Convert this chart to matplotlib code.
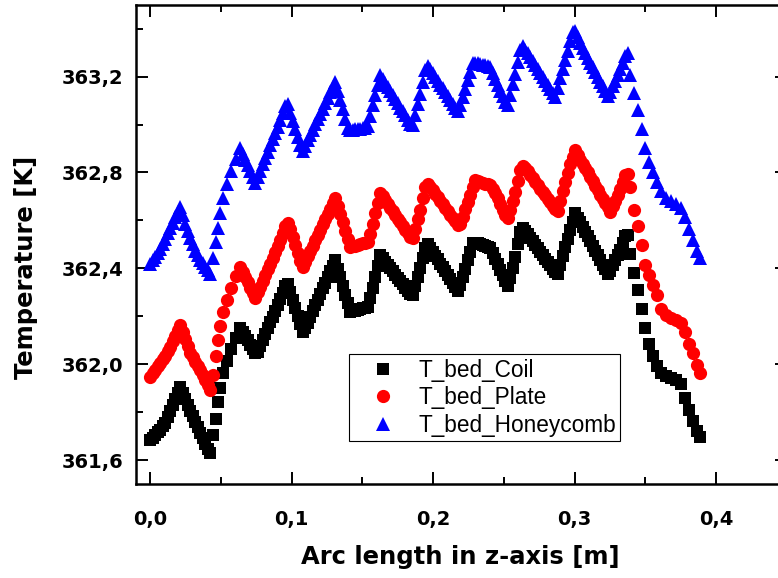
import matplotlib
matplotlib.use("Agg")
import matplotlib.pyplot as plt
from matplotlib.ticker import MultipleLocator, FuncFormatter

# Arc length positions [m] (main sample points)
arc_length = [
    0.0000, 0.0035, 0.0071, 0.0106, 0.0141, 0.0177, 0.0212, 0.0247, 0.0283, 0.0318, 0.0353, 0.0389, 0.0424,
    0.0445, 0.0466, 0.0481, 0.0495, 0.0516, 0.0544, 0.0572, 0.0604,
    0.0636, 0.0671, 0.0707, 0.0742, 0.0777, 0.0813, 0.0848, 0.0883, 0.0919, 0.0954,
    0.0989, 0.1025, 0.1060, 0.1095, 0.1131, 0.1166, 0.1201, 0.1237, 0.1272, 0.1307,
    0.1343, 0.1378, 0.1413, 0.1449, 0.1484, 0.1519, 0.1555, 0.1590, 0.1625, 0.1661,
    0.1696, 0.1731, 0.1767, 0.1802, 0.1837, 0.1873, 0.1908, 0.1943, 0.1979, 0.2014,
    0.2049, 0.2085, 0.2120, 0.2155, 0.2191, 0.2226, 0.2261, 0.2297, 0.2332, 0.2367,
    0.2403, 0.2438, 0.2473, 0.2509, 0.2544, 0.2580, 0.2615, 0.2650, 0.2686, 0.2721,
    0.2756, 0.2792, 0.2827, 0.2862, 0.2898, 0.2933, 0.2968, 0.3004, 0.3039, 0.3074,
    0.3110, 0.3145, 0.3180, 0.3216, 0.3251, 0.3286, 0.3322, 0.3357,
    0.3392, 0.3420, 0.3445, 0.3473, 0.3498, 0.3527, 0.3555, 0.3583, 0.3611, 0.3647,
    0.3682, 0.3717, 0.3753, 0.3781, 0.3809, 0.3837, 0.3866, 0.3887,
]

t_bed_coil = [
    361.684, 361.704, 361.725, 361.755, 361.805, 361.855, 361.905, 361.855, 361.805, 361.759, 361.713, 361.667, 361.629,
    361.704, 361.771, 361.842, 361.901, 361.963, 362.013, 362.063, 362.109,
    362.151, 362.116, 362.081, 362.046, 362.077, 362.126, 362.174, 362.222, 362.271, 362.326,
    362.300, 362.235, 362.169, 362.149, 362.197, 362.245, 362.292, 362.340, 362.387, 362.435,
    362.363, 362.290, 362.218, 362.224, 362.230, 362.235, 362.275, 362.365, 362.456, 362.428,
    362.401, 362.374, 362.346, 362.319, 362.291, 362.326, 362.401, 362.485, 362.486, 362.453,
    362.420, 362.387, 362.354, 362.321, 362.329, 362.399, 362.468, 362.507, 362.500, 362.493,
    362.485, 362.440, 362.394, 362.349, 362.358, 362.447, 362.552, 362.556, 362.527, 362.498,
    362.470, 362.441, 362.412, 362.384, 362.415, 362.488, 362.559, 362.631, 362.592, 362.553,
    362.513, 362.474, 362.435, 362.396, 362.390, 362.434, 362.478, 362.535,
    362.460, 362.381, 362.310, 362.230, 362.151, 362.084, 362.034, 361.993, 361.963, 361.951,
    361.942, 361.934, 361.917, 361.859, 361.809, 361.763, 361.721, 361.696,
]

t_bed_plate = [
    361.947, 361.976, 362.005, 362.034, 362.072, 362.118, 362.164, 362.105, 362.047, 362.009, 361.976, 361.934, 361.892,
    361.955, 362.034, 362.101, 362.159, 362.218, 362.268, 362.318, 362.368,
    362.406, 362.363, 362.319, 362.276, 362.324, 362.372, 362.420, 362.469, 362.517, 362.577,
    362.566, 362.498, 362.429, 362.428, 362.472, 362.517, 362.561, 362.605, 362.649, 362.694,
    362.626, 362.557, 362.489, 362.495, 362.501, 362.507, 362.544, 362.629, 362.715, 362.684,
    362.653, 362.623, 362.592, 362.561, 362.530, 362.566, 362.645, 362.740, 362.739, 362.710,
    362.682, 362.653, 362.624, 362.596, 362.585, 362.646, 362.707, 362.769, 362.761, 362.754,
    362.747, 362.715, 362.668, 362.621, 362.645, 362.717, 362.810, 362.820, 362.791, 362.762,
    362.733, 362.705, 362.676, 362.647, 362.682, 362.759, 362.836, 362.894, 362.854, 362.818,
    362.781, 362.745, 362.708, 362.672, 362.635, 362.683, 362.731, 362.790,
    362.740, 362.644, 362.577, 362.498, 362.414, 362.372, 362.331, 362.289, 362.230, 362.205,
    362.193, 362.184, 362.172, 362.134, 362.084, 362.047, 361.997, 361.963,
]

t_bed_honeycomb = [
    362.418, 362.447, 362.481, 362.523, 362.568, 362.614, 362.656, 362.585, 362.527, 362.472, 362.435, 362.406, 362.376,
    362.443, 362.510, 362.568, 362.631, 362.694, 362.752, 362.806, 362.856,
    362.902, 362.854, 362.805, 362.756, 362.808, 362.861, 362.913, 362.965, 363.017, 363.078,
    363.049, 362.981, 362.913, 362.912, 362.957, 363.001, 363.045, 363.089, 363.134, 363.178,
    363.101, 363.024, 362.978, 362.980, 362.983, 362.985, 363.037, 363.122, 363.207, 363.173,
    363.139, 363.105, 363.071, 363.038, 363.003, 363.042, 363.128, 363.228, 363.230, 363.198,
    363.167, 363.135, 363.103, 363.071, 363.081, 363.150, 363.220, 363.259, 363.253, 363.247,
    363.240, 363.191, 363.142, 363.093, 363.125, 363.211, 363.311, 363.313, 363.280, 363.247,
    363.214, 363.181, 363.148, 363.115, 363.193, 363.270, 363.348, 363.391, 363.339, 363.299,
    363.259, 363.219, 363.179, 363.139, 363.134, 363.183, 363.231, 363.286,
    363.207, 363.132, 363.061, 362.982, 362.902, 362.844, 362.802, 362.760, 362.723, 362.694,
    362.681, 362.669, 362.652, 362.614, 362.564, 362.518, 362.472, 362.443,
]

arc_length_mid = [
    0.0018, 0.0053, 0.0088, 0.0124, 0.0159, 0.0194, 0.0230, 0.0265, 0.0300, 0.0336, 0.0371, 0.0406,
    0.0654, 0.0689, 0.0724, 0.0760, 0.0795, 0.0830, 0.0866, 0.0901, 0.0936, 0.0972,
    0.1007, 0.1042, 0.1078, 0.1113, 0.1148, 0.1184, 0.1219, 0.1254, 0.1290, 0.1325,
    0.1360, 0.1396, 0.1431, 0.1466, 0.1502, 0.1537, 0.1572, 0.1608, 0.1643, 0.1678,
    0.1714, 0.1749, 0.1784, 0.1820, 0.1855, 0.1890, 0.1926, 0.1961, 0.1996, 0.2032,
    0.2067, 0.2102, 0.2138, 0.2173, 0.2208, 0.2244, 0.2279, 0.2314, 0.2350, 0.2385,
    0.2420, 0.2456, 0.2491, 0.2527, 0.2562, 0.2597, 0.2633, 0.2668, 0.2703, 0.2739,
    0.2774, 0.2809, 0.2845, 0.2880, 0.2915, 0.2951, 0.2986, 0.3021, 0.3057, 0.3092,
    0.3127, 0.3163, 0.3198, 0.3233, 0.3269, 0.3304, 0.3339, 0.3375,
]

t_bed_coil_mid = [
    361.694, 361.715, 361.740, 361.780, 361.830, 361.880, 361.880, 361.830, 361.782, 361.736, 361.690, 361.648,
    362.134, 362.099, 362.064, 362.052, 362.102, 362.150, 362.198, 362.247, 362.298, 362.335,
    362.268, 362.202, 362.135, 362.173, 362.221, 362.269, 362.316, 362.364, 362.411, 362.399,
    362.327, 362.254, 362.221, 362.227, 362.233, 362.240, 362.320, 362.411, 362.442, 362.415,
    362.388, 362.360, 362.333, 362.305, 362.288, 362.364, 362.443, 362.500, 362.470, 362.437,
    362.404, 362.371, 362.338, 362.305, 362.364, 362.434, 362.505, 362.504, 362.497, 362.489,
    362.463, 362.417, 362.372, 362.326, 362.403, 362.500, 362.568, 362.542, 362.513, 362.484,
    362.456, 362.427, 362.398, 362.378, 362.452, 362.524, 362.595, 362.612, 362.573, 362.533,
    362.494, 362.455, 362.416, 362.375, 362.412, 362.456, 362.507, 362.540,
]

t_bed_plate_mid = [
    361.962, 361.991, 362.020, 362.053, 362.095, 362.141, 362.135, 362.076, 362.028, 361.993, 361.955, 361.913,
    362.385, 362.341, 362.298, 362.300, 362.348, 362.396, 362.445, 362.493, 362.547, 362.590,
    362.532, 362.464, 362.405, 362.450, 362.495, 362.539, 362.583, 362.627, 362.672, 362.660,
    362.592, 362.523, 362.492, 362.498, 362.504, 362.512, 362.587, 362.672, 362.700, 362.669,
    362.638, 362.608, 362.577, 362.546, 362.526, 362.606, 362.693, 362.752, 362.725, 362.696,
    362.668, 362.639, 362.610, 362.581, 362.616, 362.677, 362.738, 362.765, 362.758, 362.751,
    362.731, 362.692, 362.645, 362.609, 362.681, 362.764, 362.826, 362.806, 362.777, 362.748,
    362.719, 362.691, 362.662, 362.641, 362.721, 362.798, 362.865, 362.874, 362.836, 362.800,
    362.763, 362.727, 362.690, 362.654, 362.659, 362.707, 362.761, 362.795,
]

t_bed_honeycomb_mid = [
    362.433, 362.464, 362.502, 362.546, 362.591, 362.635, 362.621, 362.556, 362.500, 362.454, 362.421, 362.391,
    362.878, 362.830, 362.781, 362.782, 362.835, 362.887, 362.939, 362.991, 363.048, 363.084,
    363.015, 362.947, 362.890, 362.935, 362.979, 363.023, 363.067, 363.112, 363.156, 363.139,
    363.063, 362.985, 362.979, 362.982, 362.984, 362.992, 363.080, 363.165, 363.190, 363.156,
    363.122, 363.088, 363.055, 363.021, 362.999, 363.085, 363.178, 363.245, 363.214, 363.183,
    363.151, 363.119, 363.087, 363.055, 363.116, 363.185, 363.257, 363.256, 363.250, 363.244,
    363.216, 363.167, 363.118, 363.082, 363.168, 363.261, 363.327, 363.297, 363.264, 363.231,
    363.198, 363.165, 363.132, 363.154, 363.232, 363.309, 363.385, 363.365, 363.319, 363.279,
    363.239, 363.199, 363.159, 363.120, 363.159, 363.207, 363.259, 363.297,
]

series_labels = ["T_bed_Coil", "T_bed_Plate", "T_bed_Honeycomb"]
x_label = "Arc length in z-axis [m]"
y_label = "Temperature [K]"

W, H = 778, 578
fig = plt.figure(figsize=(W / 100, H / 100), dpi=100)
ax = fig.add_axes([136 / W, 1 - 484 / H, (786.75 - 135.85) / W, (484 - 4.76) / H])

ax.plot(arc_length + arc_length_mid, t_bed_coil + t_bed_coil_mid, linestyle="none",
        marker="s", markersize=8, color="#000000", markeredgewidth=0,
        label=series_labels[0])
ax.plot(arc_length + arc_length_mid, t_bed_plate + t_bed_plate_mid, linestyle="none",
        marker="o", markersize=9.5, color="#FF0000", markeredgewidth=0,
        label=series_labels[1])
ax.plot(arc_length + arc_length_mid, t_bed_honeycomb + t_bed_honeycomb_mid, linestyle="none",
        marker="^", markersize=10, color="#0000FF", markeredgewidth=0,
        label=series_labels[2])

ax.set_xlim(-0.01, 0.45)
ax.set_ylim(361.5, 363.5)

ax.xaxis.set_major_locator(MultipleLocator(0.1))
ax.xaxis.set_minor_locator(MultipleLocator(0.05))
ax.yaxis.set_major_locator(MultipleLocator(0.4))
ax.yaxis.set_minor_locator(MultipleLocator(0.2))

comma = FuncFormatter(lambda v, p: f"{v:.1f}".replace(".", ","))
ax.xaxis.set_major_formatter(comma)
ax.yaxis.set_major_formatter(comma)

ax.tick_params(which="both", direction="in", top=True, right=True, width=1.4)
ax.tick_params(which="major", length=8.5)
ax.tick_params(which="minor", length=5)
ax.tick_params(axis="x", which="major", pad=18.5)
ax.tick_params(axis="y", which="major", pad=9)
for lab in ax.get_xticklabels() + ax.get_yticklabels():
    lab.set_fontfamily("DejaVu Sans")
    lab.set_fontweight("bold")
    lab.set_fontsize(14)

for s in ax.spines.values():
    s.set_linewidth(1.8)

fig.text(460.5 / W, 1 - 564 / H, x_label, ha="center", va="baseline",
         fontsize=17.5, fontweight="bold", family="DejaVu Sans")
fig.text(33 / W, 1 - 267 / H, y_label, ha="center", va="baseline",
         rotation=90, rotation_mode="anchor",
         fontsize=17.5, fontweight="bold", family="DejaVu Sans")

leg = ax.legend(loc="upper left", bbox_to_anchor=(349 / W, 1 - 354 / H),
                bbox_transform=fig.transFigure, frameon=True, fancybox=False,
                framealpha=1, edgecolor="black", borderpad=0.2,
                labelspacing=0.2, handlelength=2.6, handletextpad=0.25,
                numpoints=1, borderaxespad=0,
                prop={"family": "Liberation Sans", "size": 16.3})
leg.get_frame().set_linewidth(0.8)

fig.savefig("out.png", dpi=100)
